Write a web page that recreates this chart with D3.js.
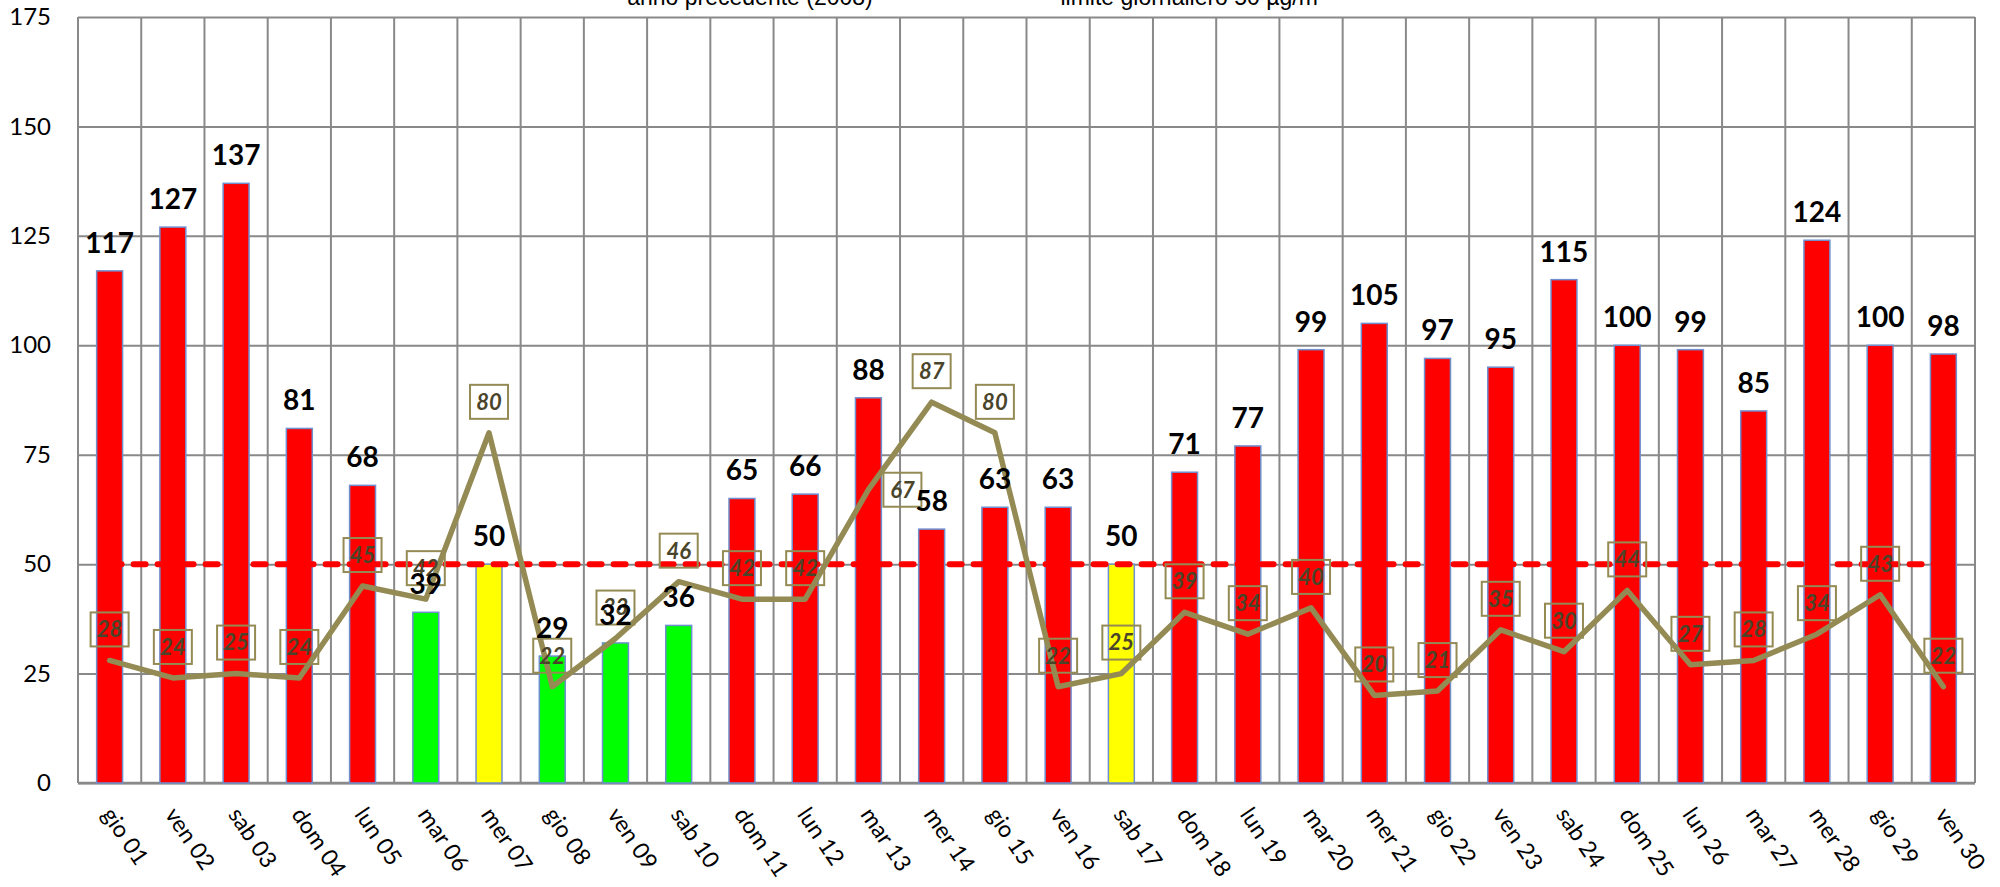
<!DOCTYPE html>
<html>
<head>
<meta charset="utf-8">
<script src="https://cdn.jsdelivr.net/npm/d3@7"></script>
<style>
  html, body { margin: 0; padding: 0; background: #ffffff; }
  svg { display: block; }
</style>
</head>
<body>
<svg id="chart" width="2000" height="887"></svg>
<script>
// ---- data ----
const categories = ["gio 01","ven 02","sab 03","dom 04","lun 05","mar 06","mer 07","gio 08","ven 09","sab 10",
  "dom 11","lun 12","mar 13","mer 14","gio 15","ven 16","sab 17","dom 18","lun 19","mar 20",
  "mer 21","gio 22","ven 23","sab 24","dom 25","lun 26","mar 27","mer 28","gio 29","ven 30"];
const values2009 = [117,127,137,81,68,39,50,29,32,36,65,66,88,58,63,63,50,71,77,99,105,97,95,115,100,99,85,124,100,98];
const values2008 = [28,24,25,24,45,42,80,22,33,46,42,42,67,87,80,22,25,39,34,40,20,21,35,30,44,27,28,34,43,22];
const labelSide2008 = ["above","above","above","above","above","above","above","above","above","above",
  "above","above","right","above","above","above","above","above","above","above",
  "above","above","above","above","above","above","above","above","above","above"];
const limitValue = 50;
const yTicks = [0,25,50,75,100,125,150,175];
const legendLabels = ["anno precedente (2008)", "limite giornaliero 50 µg/m³"];

(function () {
// ---- layout ----
const svg = d3.select("#chart");
const pL = 78, pR = 1975, pT = 17, pB = 783;
const x = d3.scaleBand().domain(categories).range([pL, pR]);
const y = d3.scaleLinear().domain([0, 175]).range([pB, pT]);
const cx = d => x(d) + x.bandwidth() / 2;
const barW = x.bandwidth() * 0.41;
const gridColor = "#898989";
const olive = "#948a54";

function barColor(v) {
  if (v < limitValue) return "#00ff00";
  if (v === limitValue) return "#ffff00";
  return "#ff0000";
}

// horizontal gridlines + y labels
const yAxis = d3.axisLeft(y).tickValues(yTicks).tickSize(-(pR - pL)).tickPadding(27);
const gy = svg.append("g").attr("transform", `translate(${pL},0)`).call(yAxis);
gy.select(".domain").remove();
gy.selectAll("line").attr("stroke", gridColor).attr("stroke-width", 2);
gy.selectAll("text")
  .attr("font-family", "Lato, 'Open Sans', sans-serif")
  .attr("font-size", 24)
  .attr("fill", "#000");

// vertical gridlines at category boundaries
const boundaries = categories.map(c => x(c)).concat([pR]);
svg.append("g").selectAll("line").data(boundaries).join("line")
  .attr("x1", d => d).attr("x2", d => d)
  .attr("y1", pT).attr("y2", pB)
  .attr("stroke", gridColor).attr("stroke-width", 2);

// x axis baseline
svg.append("line").attr("x1", pL).attr("x2", pR).attr("y1", pB).attr("y2", pB)
  .attr("stroke", gridColor).attr("stroke-width", 2.5);

// bars
svg.append("g").selectAll("rect").data(categories).join("rect")
  .attr("x", (d) => cx(d) - barW / 2)
  .attr("width", barW)
  .attr("y", (d, i) => y(values2009[i]))
  .attr("height", (d, i) => pB - y(values2009[i]))
  .attr("fill", (d, i) => barColor(values2009[i]))
  .attr("stroke", "#6f8fcf")
  .attr("stroke-width", 1.5);

// limit dashed line
const limitLine = d3.line().x(d => cx(d)).y(() => y(limitValue));
svg.append("path").datum(categories)
  .attr("d", limitLine)
  .attr("fill", "none")
  .attr("stroke", "#ff0000")
  .attr("stroke-width", 6)
  .attr("stroke-linecap", "round")
  .attr("stroke-dasharray", "12,12");

// previous year line
const prevLine = d3.line().x(d => cx(d)).y((d, i) => y(values2008[i]));
svg.append("path").datum(categories)
  .attr("d", prevLine)
  .attr("fill", "none")
  .attr("stroke", olive)
  .attr("stroke-width", 5.5)
  .attr("stroke-linejoin", "round")
  .attr("stroke-linecap", "round");

// previous year labels in boxes
const boxW = 38, boxH = 34;
const lab = svg.append("g").selectAll("g").data(categories).join("g")
  .attr("transform", (d, i) => {
    const px = cx(d), py = y(values2008[i]);
    if (labelSide2008[i] === "right") return `translate(${px + 34},${py})`;
    return `translate(${px},${py - 31})`;
  });
lab.append("rect")
  .attr("x", -boxW / 2).attr("y", -boxH / 2)
  .attr("width", boxW).attr("height", boxH)
  .attr("fill", "none")
  .attr("stroke", olive).attr("stroke-width", 2);
lab.append("text")
  .attr("text-anchor", "middle")
  .attr("dy", "0.36em")
  .attr("font-family", "Lato, 'Open Sans', sans-serif")
  .attr("font-size", 22)
  .attr("font-weight", "bold")
  .attr("font-style", "italic")
  .attr("fill", "#4a452a")
  .text((d, i) => values2008[i]);

// bar value labels
svg.append("g").selectAll("text").data(categories).join("text")
  .attr("x", d => cx(d))
  .attr("y", (d, i) => y(values2009[i]) - 18)
  .attr("text-anchor", "middle")
  .attr("font-family", "Lato, 'Open Sans', sans-serif")
  .attr("font-size", 28)
  .attr("font-weight", "bold")
  .attr("fill", "#000")
  .text((d, i) => values2009[i]);

// x axis labels
const xAxis = d3.axisBottom(x).tickSize(0).tickPadding(0);
const gx = svg.append("g").attr("transform", `translate(0,${pB})`).call(xAxis);
gx.select(".domain").remove();
gx.selectAll(".tick text")
  .attr("font-family", "Lato, 'Open Sans', sans-serif")
  .attr("font-size", 23)
  .attr("fill", "#000")
  .attr("text-anchor", "start")
  .attr("x", 0).attr("y", 0)
  .attr("dy", "0.35em")
  .attr("transform", "translate(-2,27) rotate(56)");

// legend (cut off at top)
const legendX = [750, 1193];
svg.append("g").selectAll("text").data(legendLabels).join("text")
  .attr("x", (d, i) => legendX[i])
  .attr("y", 5)
  .attr("text-anchor", "middle")
  .attr("font-family", "'Liberation Sans', Arial, sans-serif")
  .attr("font-size", 23)
  .attr("fill", "#000")
  .text(d => d);
})();
</script>
</body>
</html>
